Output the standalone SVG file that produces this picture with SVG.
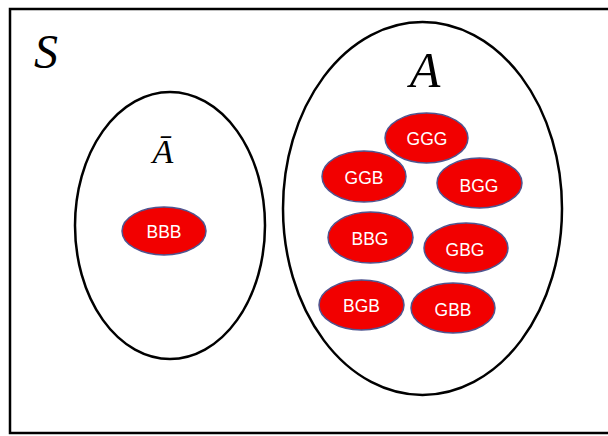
<svg xmlns="http://www.w3.org/2000/svg" width="608" height="436" viewBox="0 0 608 436">
<style>
.set{fill:none;stroke:#000;stroke-width:2.5}
.out{fill:#F20000;stroke:#4F5590;stroke-width:1.5}
.lbl{font-family:"Liberation Sans",Arial,sans-serif;font-size:17.5px;fill:#fff;text-anchor:middle}
.math{font-family:"Liberation Serif","Times New Roman",serif;font-style:italic;fill:#000;text-anchor:middle}
</style>
<rect x="0" y="0" width="608" height="436" fill="#fff"/>
<g id="sample-space">
<rect x="10" y="9" width="620" height="424" fill="none" stroke="#000" stroke-width="2.5"/>
<text class="math" x="46" y="68" font-size="48">S</text>
</g>
<g id="set-Abar">
<ellipse class="set" cx="170" cy="225.5" rx="95" ry="133.5"/>
<text class="math" x="163" y="163" font-size="34">Ā</text>
</g>
<g id="set-A">
<ellipse class="set" cx="422.5" cy="208.5" rx="139.5" ry="186.5"/>
<text class="math" x="425" y="87" font-size="50">A</text>
</g>
<g id="BBB"><ellipse class="out" cx="164" cy="231" rx="42" ry="24"/><text class="lbl" x="164" y="238">BBB</text></g>
<g id="GGG"><ellipse class="out" cx="426.5" cy="138" rx="41.5" ry="25"/><text class="lbl" x="427" y="144.5">GGG</text></g>
<g id="GGB"><ellipse class="out" cx="364" cy="176.5" rx="42" ry="25.5"/><text class="lbl" x="364" y="184">GGB</text></g>
<g id="BGG"><ellipse class="out" cx="479.5" cy="183" rx="42.5" ry="25"/><text class="lbl" x="479" y="191.5">BGG</text></g>
<g id="BBG"><ellipse class="out" cx="370.5" cy="237.5" rx="42.5" ry="25.5"/><text class="lbl" x="370" y="245">BBG</text></g>
<g id="GBG"><ellipse class="out" cx="466" cy="248" rx="42" ry="25"/><text class="lbl" x="465" y="256">GBG</text></g>
<g id="BGB"><ellipse class="out" cx="361.5" cy="305" rx="42.5" ry="25"/><text class="lbl" x="361.5" y="312">BGB</text></g>
<g id="GBB"><ellipse class="out" cx="453" cy="308" rx="42" ry="25"/><text class="lbl" x="453" y="315.5">GBB</text></g>
<g id="connectors"/>
</svg>
